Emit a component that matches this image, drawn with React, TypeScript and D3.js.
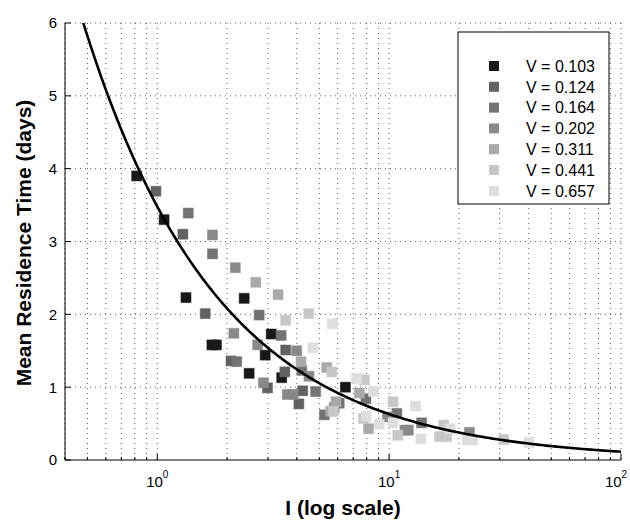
import * as d3 from "d3";
import React from "react";

// series labels and gray levels (legend order)
const velocities = ["0.103", "0.124", "0.164", "0.202", "0.311", "0.441", "0.657"];
const grays = ["#191919", "#626262", "#737373", "#898989", "#a9a9a9", "#c7c7c7", "#dedede"];

// measured points per series: [I, mean residence time]
const v103 = [[0.815, 3.9], [1.07, 3.3], [1.33, 2.23], [1.72, 1.58], [1.8, 1.58], [2.37, 2.22], [2.49, 1.19], [2.92, 1.44], [3.1, 1.73], [3.44, 1.13], [6.48, 1.0]];
const v124 = [[0.987, 3.69], [1.29, 3.1], [1.61, 2.01], [2.08, 1.36], [3.55, 1.21], [4.24, 0.95], [4.08, 0.77], [3.58, 1.51], [2.99, 0.99]];
const v164 = [[1.36, 3.39], [1.73, 2.83], [2.2, 1.35], [2.75, 1.99], [3.42, 1.71], [4.82, 0.94], [4.2, 1.23], [7.94, 0.84], [6.09, 0.78], [5.26, 0.62], [10.8, 0.64], [13.8, 0.51]];
const v202 = [[1.73, 3.09], [2.17, 2.64], [2.14, 1.74], [2.71, 1.58], [3.99, 1.5], [4.51, 1.15], [2.87, 1.06], [3.64, 0.9], [3.86, 0.9], [5.8, 0.72], [9.84, 0.59], [11.7, 0.41], [12.1, 0.41], [22.2, 0.38]];
const v311 = [[2.66, 2.44], [3.32, 2.27], [4.17, 1.35], [5.38, 1.27], [7.44, 0.92], [5.6, 0.67], [8.15, 0.43], [5.9, 0.8]];
const v441 = [[3.58, 1.92], [4.5, 2.01], [5.66, 1.21], [7.82, 1.1], [10.4, 0.8], [7.75, 0.57], [17.2, 0.48], [16.5, 0.32], [17.7, 0.32], [31.2, 0.28], [10.9, 0.34], [5.75, 0.67]];
const v657 = [[4.68, 1.54], [5.69, 1.87], [7.23, 1.12], [8.56, 0.94], [13.0, 0.74], [10.4, 0.51], [9.06, 0.49], [7.96, 0.6], [18.3, 0.43], [13.7, 0.29], [21.7, 0.275], [22.9, 0.275], [40.1, 0.24]];
const series = [v103, v124, v164, v202, v311, v441, v657];

// fitted curve T = A * I^B
const FIT_A = 3.48;
const FIT_B = -0.742;

const yTicks = [0, 1, 2, 3, 4, 5, 6];
const xDecades = [1, 10, 100];

export default function App() {
  const width = 630, height = 522;
  const m = {left: 65, right: 621, top: 23, bottom: 460};

  const x = d3.scaleLog().domain([0.4, 100]).range([m.left, m.right]);
  const y = d3.scaleLinear().domain([0, 6]).range([m.bottom, m.top]);

  // minor positions for the log axis
  const minor: number[] = [];
  for (let d = 0.1; d <= 10; d *= 10) {
    for (let k = 2; k <= 9; k++) {
      const v = k * d;
      if (v >= 0.4 && v <= 100) minor.push(v);
    }
  }

  const curveX = d3.range(0, 301).map(i => 0.4 * Math.pow(250, i / 300));
  const line = d3.line<number>()
      .x(d => x(d))
      .y(d => y(FIT_A * Math.pow(d, FIT_B)));

  const font = "'Liberation Sans', Arial, Helvetica, sans-serif";
  const sq = 10;

  return (
    <svg width={width} height={height} style={{position: "absolute", left: 0, top: 0, background: "#fff"}} fontFamily={font}>
      <defs>
        <clipPath id="plot">
          <rect x={m.left} y={m.top} width={m.right - m.left} height={m.bottom - m.top}/>
        </clipPath>
      </defs>

      {/* grid */}
      <g stroke="#333" strokeWidth={0.8} strokeDasharray="1,4" fill="none">
        {minor.map(v => <line key={"mv" + v} x1={x(v)} x2={x(v)} y1={m.top} y2={m.bottom}/>)}
        {xDecades.map(v => <line key={"dv" + v} x1={x(v)} x2={x(v)} y1={m.top} y2={m.bottom}/>)}
        {yTicks.slice(1).map(v => <line key={"h" + v} x1={m.left} x2={m.right} y1={y(v)} y2={y(v)}/>)}
      </g>

      {/* axes */}
      <g stroke="#000" strokeWidth={1}>
        <line x1={m.left} x2={m.left} y1={m.top} y2={m.bottom}/>
        <line x1={m.left} x2={m.right} y1={m.bottom} y2={m.bottom}/>
        {minor.map(v => <line key={"mt" + v} x1={x(v)} x2={x(v)} y1={m.bottom} y2={m.bottom - 3}/>)}
        {xDecades.map(v => <line key={"dt" + v} x1={x(v)} x2={x(v)} y1={m.bottom} y2={m.bottom - 6}/>)}
        {yTicks.map(v => <line key={"yt" + v} x1={m.left} x2={m.left + 6} y1={y(v)} y2={y(v)}/>)}
      </g>

      {/* tick labels */}
      <g fontSize={15} fill="#000">
        {yTicks.map(v => (
          <text key={"yl" + v} x={m.left - 8} y={y(v)} dy="0.36em" textAnchor="end">{v}</text>
        ))}
        {xDecades.map(v => (
          <text key={"xl" + v} x={Math.min(x(v), width - 14)} y={m.bottom + 27} textAnchor="middle">
            10<tspan fontSize={10} dy={-9}>{Math.round(Math.log10(v))}</tspan>
          </text>
        ))}
      </g>

      {/* points */}
      <g>
        {series.map((pts, i) => pts.map((p, j) => (
          <rect key={i + "-" + j} x={x(p[0]) - sq / 2} y={y(p[1]) - sq / 2} width={sq} height={sq}
                fill={grays[i]} stroke={grays[i]} strokeOpacity={0.5} strokeWidth={1}/>
        )))}
      </g>

      {/* fitted curve */}
      <path d={line(curveX) || ""} fill="none" stroke="#000" strokeWidth={2.6} clipPath="url(#plot)"/>

      {/* legend */}
      <rect x={458} y={32} width={151} height={172} fill="#fff" stroke="#000" strokeWidth={1}/>
      {velocities.map((v, i) => (
        <g key={"lg" + v} transform={`translate(0,${66 + i * 20.8})`}>
          <rect x={494 - sq / 2} y={-sq / 2} width={sq} height={sq} fill={grays[i]}/>
          <text x={526} y={0} dy="0.36em" fontSize={16}>V = {v}</text>
        </g>
      ))}

      {/* axis titles */}
      <text x={343} y={515} textAnchor="middle" fontSize={21} fontWeight="bold">I (log scale)</text>
      <text transform={`translate(31,${243}) rotate(-90)`} textAnchor="middle" fontSize={21} fontWeight="bold">
        Mean Residence Time (days)
      </text>
    </svg>
  );
}
